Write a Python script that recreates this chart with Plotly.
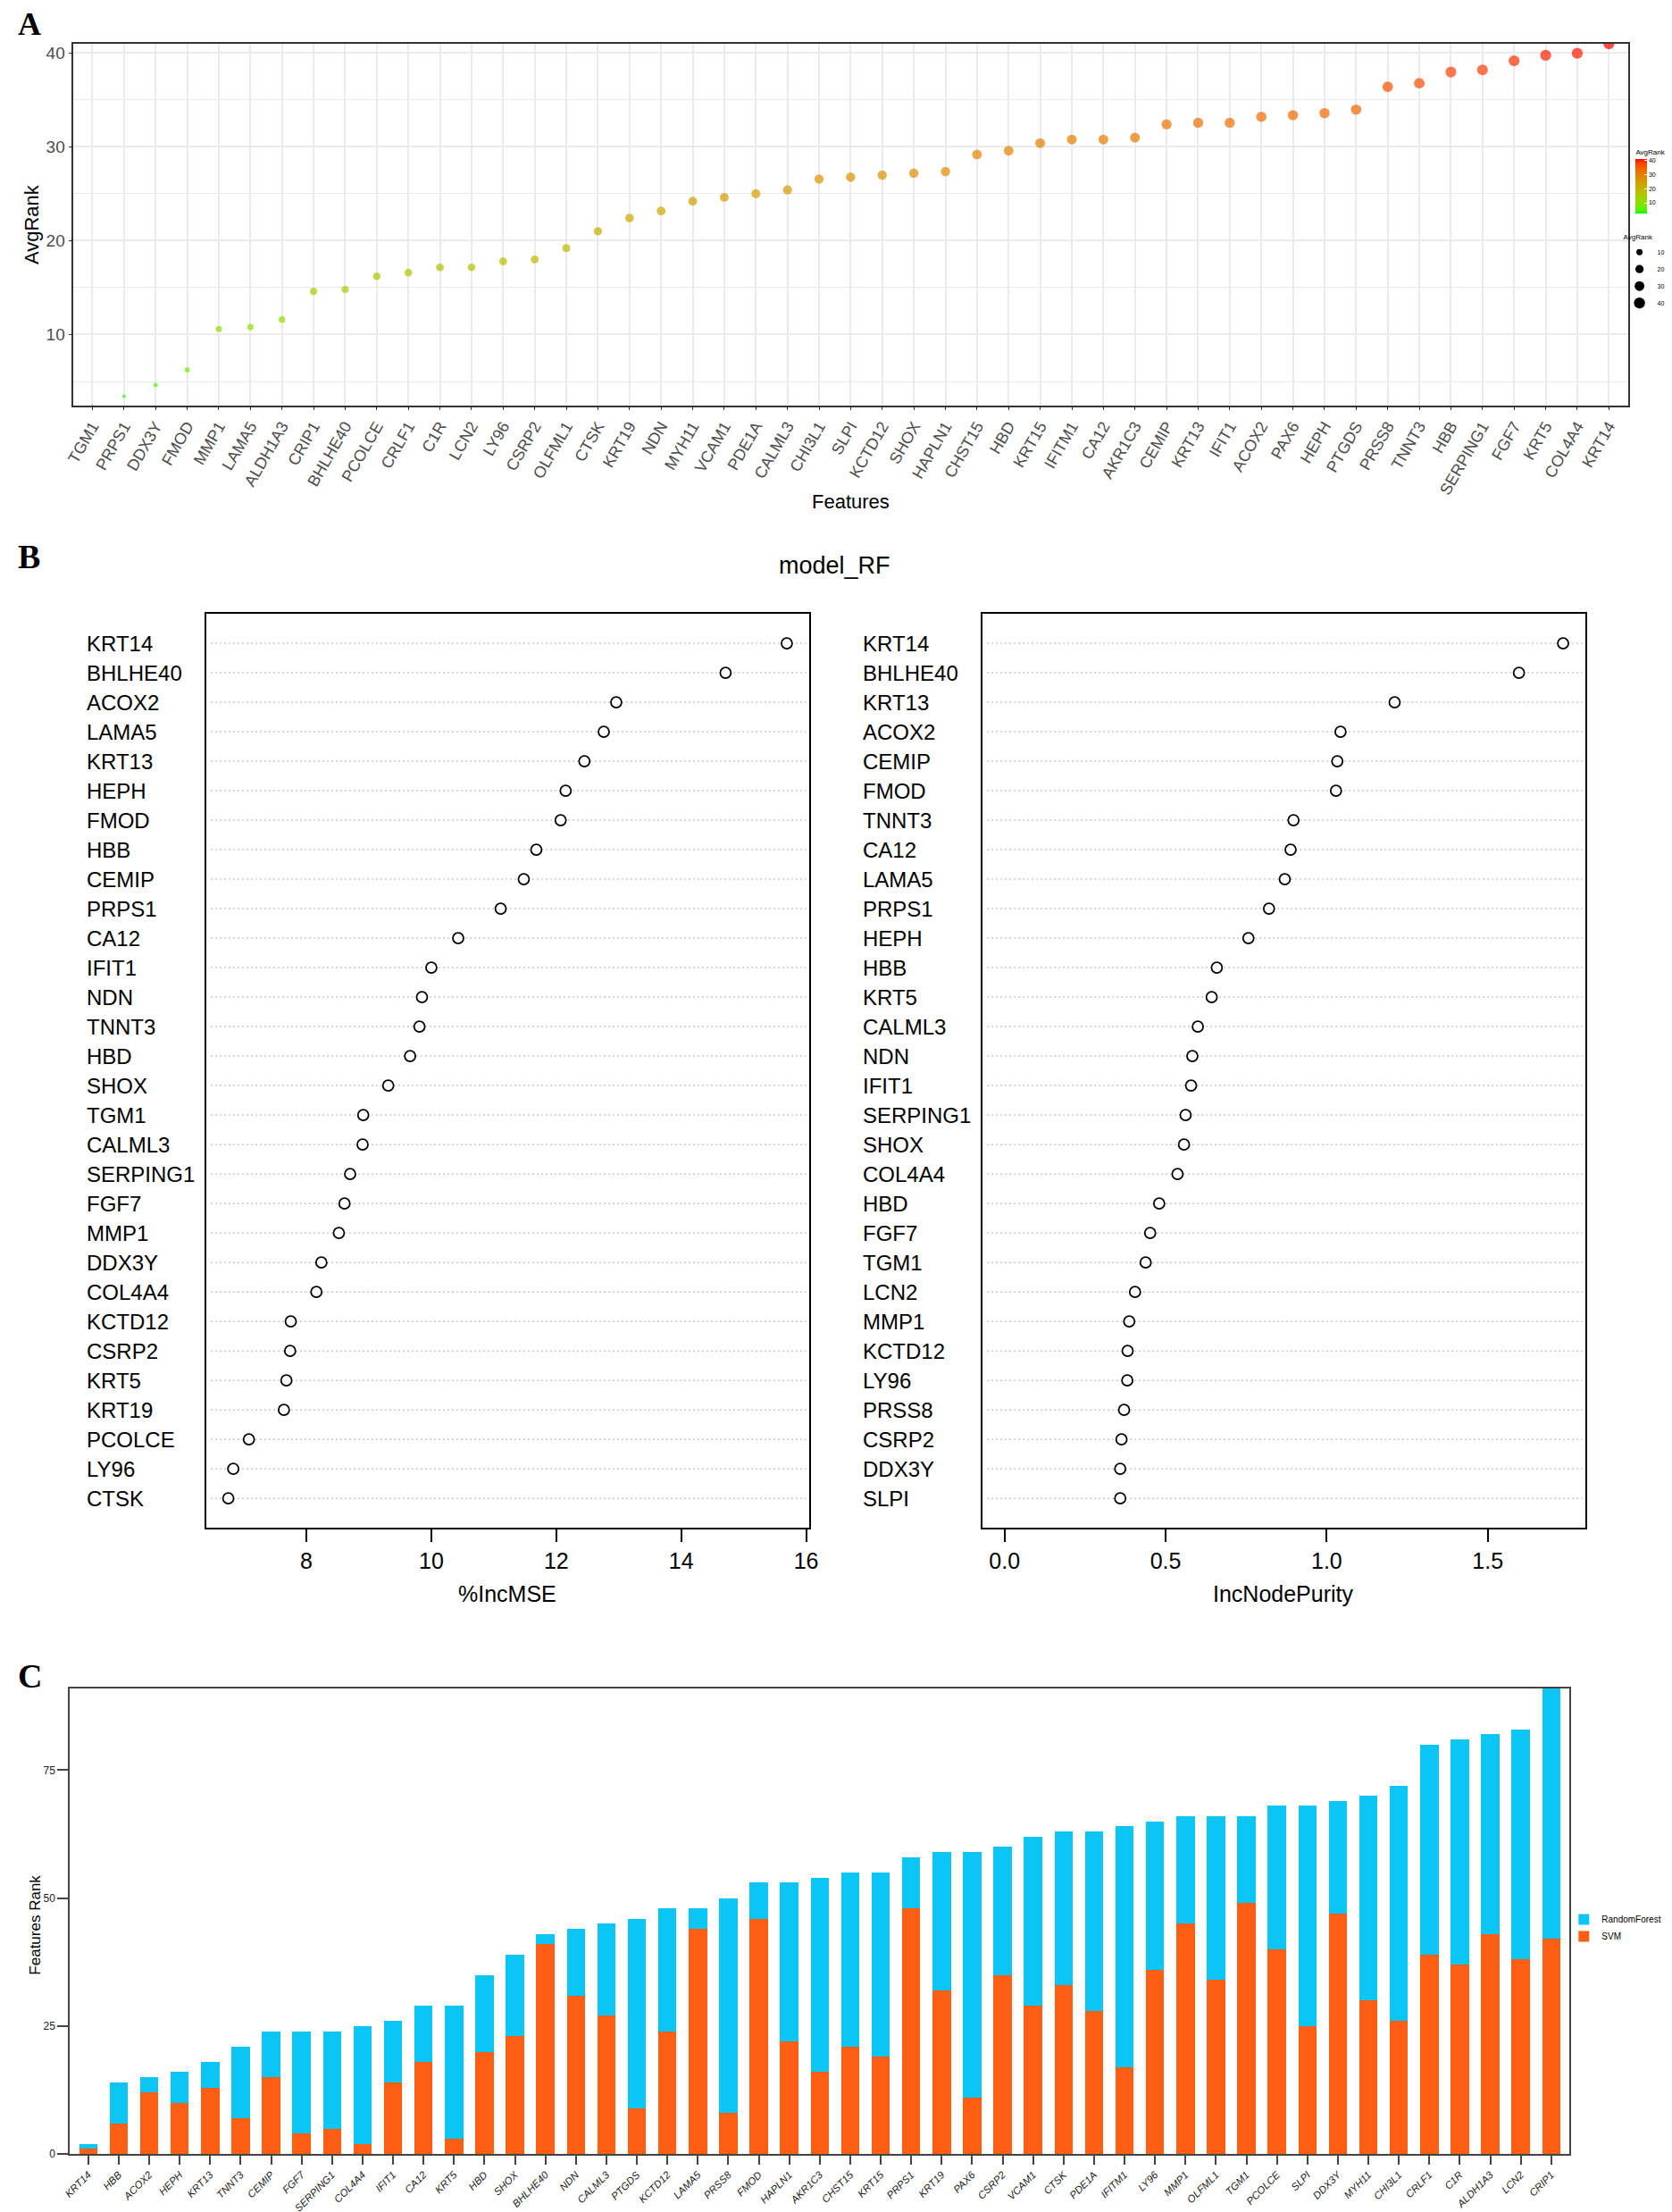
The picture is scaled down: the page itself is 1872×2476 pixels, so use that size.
import numpy as np
import plotly.graph_objects as go

W, H = 1872, 2476

# ---------------- Panel A data ----------------
a_features = ["TGM1", "PRPS1", "DDX3Y", "FMOD", "MMP1", "LAMA5", "ALDH1A3", "CRIP1", "BHLHE40",
              "PCOLCE", "CRLF1", "C1R", "LCN2", "LY96", "CSRP2", "OLFML1", "CTSK", "KRT19", "NDN",
              "MYH11", "VCAM1", "PDE1A", "CALML3", "CHI3L1", "SLPI", "KCTD12", "SHOX", "HAPLN1",
              "CHST15", "HBD", "KRT15", "IFITM1", "CA12", "AKR1C3", "CEMIP", "KRT13", "IFIT1",
              "ACOX2", "PAX6", "HEPH", "PTGDS", "PRSS8", "TNNT3", "HBB", "SERPING1", "FGF7",
              "KRT5", "COL4A4", "KRT14"]
a_avgrank = [2.46, 3.44, 4.63, 6.25, 10.6, 10.8, 11.6, 14.6, 14.8,
             16.2, 16.6, 17.16, 17.16, 17.8, 18.0, 19.2, 21.0, 22.4, 23.16,
             24.2, 24.6, 25.0, 25.4, 26.56, 26.77, 26.98, 27.19, 27.37,
             29.19, 29.58, 30.39, 30.77, 30.77, 30.98, 32.39, 32.56, 32.56,
             33.19, 33.37, 33.58, 33.96, 36.39, 36.77, 37.96, 38.18, 39.16,
             39.75, 39.96, 40.98]
a_yticks = [10, 20, 30, 40]
a_size_legend = [10, 20, 30, 40]

# ---------------- Panel B data ----------------
b_mse_features = ["KRT14", "BHLHE40", "ACOX2", "LAMA5", "KRT13", "HEPH", "FMOD", "HBB", "CEMIP",
                  "PRPS1", "CA12", "IFIT1", "NDN", "TNNT3", "HBD", "SHOX", "TGM1", "CALML3",
                  "SERPING1", "FGF7", "MMP1", "DDX3Y", "COL4A4", "KCTD12", "CSRP2", "KRT5",
                  "KRT19", "PCOLCE", "LY96", "CTSK"]
b_mse_values = [15.69, 14.71, 12.96, 12.76, 12.45, 12.15, 12.07, 11.68, 11.48,
                11.11, 10.43, 10.00, 9.85, 9.81, 9.66, 9.31, 8.91, 8.90,
                8.70, 8.61, 8.52, 8.24, 8.16, 7.75, 7.74, 7.68,
                7.64, 7.08, 6.83, 6.75]
b_pur_features = ["KRT14", "BHLHE40", "KRT13", "ACOX2", "CEMIP", "FMOD", "TNNT3", "CA12", "LAMA5",
                  "PRPS1", "HEPH", "HBB", "KRT5", "CALML3", "NDN", "IFIT1", "SERPING1", "SHOX",
                  "COL4A4", "HBD", "FGF7", "TGM1", "LCN2", "MMP1", "KCTD12", "LY96", "PRSS8",
                  "CSRP2", "DDX3Y", "SLPI"]
b_pur_values = [1.734, 1.597, 1.211, 1.043, 1.033, 1.029, 0.897, 0.888, 0.870,
                0.821, 0.757, 0.659, 0.643, 0.600, 0.583, 0.579, 0.562, 0.557,
                0.537, 0.480, 0.452, 0.438, 0.405, 0.387, 0.382, 0.381, 0.371,
                0.363, 0.359, 0.359]
b_mse_ticks = [8, 10, 12, 14, 16]
b_pur_ticks = [0.0, 0.5, 1.0, 1.5]

# ---------------- Panel C data ----------------
c_features = ["KRT14", "HBB", "ACOX2", "HEPH", "KRT13", "TNNT3", "CEMIP", "FGF7", "SERPING1",
              "COL4A4", "IFIT1", "CA12", "KRT5", "HBD", "SHOX", "BHLHE40", "NDN", "CALML3",
              "PTGDS", "KCTD12", "LAMA5", "PRSS8", "FMOD", "HAPLN1", "AKR1C3", "CHST15",
              "KRT15", "PRPS1", "KRT19", "PAX6", "CSRP2", "VCAM1", "CTSK", "PDE1A", "IFITM1",
              "LY96", "MMP1", "OLFML1", "TGM1", "PCOLCE", "SLPI", "DDX3Y", "MYH11", "CHI3L1",
              "CRLF1", "C1R", "ALDH1A3", "LCN2", "CRIP1"]
c_svm = [1, 6, 12, 10, 13, 7, 15, 4, 5,
         2, 14, 18, 3, 20, 23, 41, 31, 27,
         9, 24, 44, 8, 46, 22, 16, 21,
         19, 48, 32, 11, 35, 29, 33, 28, 17,
         36, 45, 34, 49, 40, 25, 47, 30, 26,
         39, 37, 43, 38, 42]
c_rf = [1, 8, 3, 6, 5, 14, 9, 20, 19,
        23, 12, 11, 26, 15, 16, 2, 13, 18,
        37, 24, 4, 42, 7, 31, 38, 34,
        36, 10, 27, 48, 25, 33, 30, 35, 47,
        29, 21, 32, 17, 28, 43, 22, 40, 46,
        41, 44, 39, 45, 49]
c_yticks = [0, 25, 50, 75]

# ---------------- helpers ----------------
SANS = "Liberation Sans, Arial, sans-serif"
SERIF = "Liberation Serif, Times New Roman, serif"


def px_x(p):
    return p / W


def px_y(p):
    return 1 - p / H


def _srgb_to_lab(hexc):
    r, g, b = [int(hexc[i:i + 2], 16) / 255 for i in (1, 3, 5)]

    def lin(c):
        return c / 12.92 if c <= 0.04045 else ((c + 0.055) / 1.055) ** 2.4
    r, g, b = lin(r), lin(g), lin(b)
    X = 0.4124564 * r + 0.3575761 * g + 0.1804375 * b
    Y = 0.2126729 * r + 0.7151522 * g + 0.0721750 * b
    Z = 0.0193339 * r + 0.1191920 * g + 0.9503041 * b

    def f(t):
        return t ** (1 / 3) if t > 0.008856 else 7.787 * t + 16 / 116
    fx, fy, fz = f(X / 0.95047), f(Y / 1.0), f(Z / 1.08883)
    return (116 * fy - 16, 500 * (fx - fy), 200 * (fy - fz))


def _lab_to_hex(L, a, b):
    fy = (L + 16) / 116
    fx = fy + a / 500
    fz = fy - b / 200

    def finv(t):
        return t ** 3 if t ** 3 > 0.008856 else (t - 16 / 116) / 7.787
    X, Y, Z = 0.95047 * finv(fx), finv(fy), 1.08883 * finv(fz)
    r = 3.2404542 * X - 1.5371385 * Y - 0.4985314 * Z
    g = -0.9692660 * X + 1.8760108 * Y + 0.0415560 * Z
    bb = 0.0556434 * X - 0.2040259 * Y + 1.0572252 * Z

    def gam(c):
        c = max(0.0, min(1.0, c))
        return 12.92 * c if c <= 0.0031308 else 1.055 * c ** (1 / 2.4) - 0.055
    return "#%02x%02x%02x" % tuple(int(round(gam(c) * 255)) for c in (r, g, bb))


lab_lo = _srgb_to_lab("#00FF00")
lab_hi = _srgb_to_lab("#FF0000")
colorscale = []
for t in np.linspace(0, 1, 21):
    L = lab_lo[0] + (lab_hi[0] - lab_lo[0]) * t
    A_ = lab_lo[1] + (lab_hi[1] - lab_lo[1]) * t
    B_ = lab_lo[2] + (lab_hi[2] - lab_lo[2]) * t
    colorscale.append([float(t), _lab_to_hex(L, A_, B_)])

amin, amax = min(a_avgrank), max(a_avgrank)


def size_px(v):
    x01 = (v - amin) / (amax - amin)
    x01 = max(0.0, x01)
    return 2.0 * (1 + 5 * np.sqrt(x01)) + 0.5


fig = go.Figure()

# ---------------- Panel A ----------------
fig.add_trace(go.Scatter(
    x=a_features, y=a_avgrank, mode="markers", xaxis="x", yaxis="y",
    showlegend=False,
    marker=dict(size=[size_px(v) for v in a_avgrank], color=a_avgrank,
                colorscale=colorscale, cmin=amin, cmax=amax, line=dict(width=0),
                colorbar=dict(
                    title=dict(text="AvgRank", side="top", font=dict(size=8, family=SANS, color="black")),
                    x=px_x(1834), xanchor="left", y=px_y(194), yanchor="middle",
                    len=75, lenmode="pixels", thickness=13, thicknessmode="pixels",
                    outlinewidth=0, ticks="inside", tickcolor="white", ticklen=3,
                    tickvals=a_yticks, tickfont=dict(size=7, family=SANS, color="black"),
                    xpad=0, ypad=0)),
))
for v in a_size_legend:
    fig.add_trace(go.Scatter(
        x=[None], y=[None], mode="markers", xaxis="x", yaxis="y",
        name=str(v), legend="legend2", showlegend=True,
        marker=dict(size=size_px(v), color="black"),
    ))

# ---------------- Panel B ----------------
n_b = len(b_mse_features)
b_rows = [n_b - i for i in range(n_b)]
for feats, vals, xa, ya, xl in [(b_mse_features, b_mse_values, "x2", "y2", 78),
                                (b_pur_features, b_pur_values, "x3", "y3", 957)]:
    for r in b_rows:
        fig.add_shape(type="line", xref=xa + " domain", yref=ya, x0=0.008, x1=0.995,
                      y0=r, y1=r, line=dict(color="#C8C8C8", width=1.5, dash="2px,3px"),
                      layer="below")
    fig.add_trace(go.Scatter(
        x=vals, y=b_rows, mode="markers", xaxis=xa, yaxis=ya, showlegend=False,
        marker=dict(size=12, color="white", line=dict(color="black", width=1.8)),
    ))
    for f, r in zip(feats, b_rows):
        fig.add_annotation(x=px_x(xl), y=r, xref="paper", yref=ya, text=f, showarrow=False,
                           xanchor="left", yanchor="middle",
                           font=dict(size=24, family=SANS, color="black"))

# ---------------- Panel C ----------------
fig.add_trace(go.Bar(x=c_features, y=c_svm, name="SVM", xaxis="x4", yaxis="y4",
                     marker=dict(color="#FF5F15", line=dict(width=0))))
fig.add_trace(go.Bar(x=c_features, y=c_rf, name="RandomForest", xaxis="x4", yaxis="y4",
                     marker=dict(color="#0BC6F4", line=dict(width=0))))
c_total = [s + r for s, r in zip(c_svm, c_rf)]

# ---------------- axes ----------------
mse_span = max(b_mse_values) - min(b_mse_values)
pur_lo = 0.0
pur_span = max(b_pur_values) - pur_lo

grid_col = "#EBEBEB"
layout = dict(
    width=W, height=H, margin=dict(l=0, r=0, t=0, b=0),
    paper_bgcolor="white", plot_bgcolor="white",
    font=dict(family=SANS, color="black"),
    barmode="stack", bargap=0.4,
    xaxis=dict(domain=[px_x(65), px_x(1825)], anchor="y", type="category",
               range=[-0.6, len(a_features) - 0.4],
               showgrid=True, gridcolor=grid_col, gridwidth=1.5,
               showline=True, mirror=True, linecolor="#333333", linewidth=1.5,
               ticks="outside", ticklen=4, tickcolor="#333333",
               tickangle=-60, tickfont=dict(size=18, color="#4D4D4D", family=SANS),
               zeroline=False),
    yaxis=dict(domain=[px_y(447), px_y(41)], anchor="x",
               range=[amin, amax], tickvals=a_yticks,
               showgrid=True, gridcolor=grid_col, gridwidth=1.5,
               minor=dict(dtick=5, tick0=0, showgrid=True, gridcolor=grid_col, gridwidth=1.2),
               showline=True, mirror=True, linecolor="#333333", linewidth=1.5,
               ticks="outside", ticklen=4, tickcolor="#333333",
               tickfont=dict(size=19, color="#4D4D4D", family=SANS), zeroline=False),
    xaxis2=dict(domain=[px_x(215), px_x(898)], anchor="y2",
                range=[min(b_mse_values) - 0.04 * mse_span, max(b_mse_values) + 0.04 * mse_span],
                tickvals=b_mse_ticks, showgrid=False, zeroline=False,
                showline=True, mirror=True, linecolor="black", linewidth=2,
                ticks="outside", ticklen=14, tickwidth=2, tickcolor="black",
                tickfont=dict(size=25, family=SANS, color="black")),
    yaxis2=dict(domain=[px_y(1707), px_y(681)], anchor="x2", range=[0, n_b + 1],
                showgrid=False, zeroline=False, showticklabels=False, ticks="",
                showline=True, mirror=True, linecolor="black", linewidth=2),
    xaxis3=dict(domain=[px_x(1094), px_x(1777)], anchor="y3",
                range=[pur_lo - 0.04 * pur_span, max(b_pur_values) + 0.04 * pur_span],
                tickvals=b_pur_ticks, tickformat=".1f", showgrid=False, zeroline=False,
                showline=True, mirror=True, linecolor="black", linewidth=2,
                ticks="outside", ticklen=14, tickwidth=2, tickcolor="black",
                tickfont=dict(size=25, family=SANS, color="black")),
    yaxis3=dict(domain=[px_y(1707), px_y(681)], anchor="x3", range=[0, n_b + 1],
                showgrid=False, zeroline=False, showticklabels=False, ticks="",
                showline=True, mirror=True, linecolor="black", linewidth=2),
    xaxis4=dict(domain=[px_x(61), px_x(1759)], anchor="y4", type="category",
                range=[-0.6, len(c_features) - 0.4],
                tickvals=c_features, ticktext=["<i>%s</i>" % f for f in c_features],
                showgrid=False, zeroline=False,
                showline=True, mirror=True, linecolor="#444444", linewidth=2,
                ticks="outside", ticklen=10, tickwidth=1.5, tickcolor="#444444",
                tickangle=-45, tickfont=dict(size=11.5, family=SANS, color="#222222")),
    yaxis4=dict(domain=[px_y(2410), px_y(1887)], anchor="x4",
                range=[0, max(c_total)], tickvals=c_yticks,
                showgrid=False, zeroline=False,
                showline=True, mirror=True, linecolor="#444444", linewidth=2,
                ticks="outside", ticklen=12, tickwidth=1.5, tickcolor="#444444",
                tickfont=dict(size=12, family=SANS, color="#222222")),
    legend=dict(x=px_x(1755), y=px_y(2132), xanchor="left", yanchor="top",
                traceorder="reversed", font=dict(size=10, family=SANS, color="black"),
                bgcolor="rgba(0,0,0,0)", tracegroupgap=0, itemwidth=30),
    legend2=dict(x=px_x(1818), y=px_y(250), xanchor="left", yanchor="top",
                 title=dict(text="AvgRank", font=dict(size=8, family=SANS, color="black")),
                 font=dict(size=7, family=SANS, color="black"), itemsizing="trace",
                 bgcolor="rgba(0,0,0,0)", tracegroupgap=0, itemwidth=30),
)
fig.update_layout(**layout)

annots = [
    dict(text="<b>A</b>", x=px_x(0), y=px_y(19), xanchor="left", yanchor="middle",
         font=dict(size=36, family=SERIF, color="black")),
    dict(text="AvgRank", x=px_x(18), y=px_y(244), xanchor="center", yanchor="middle",
         textangle=-90, font=dict(size=22, family=SANS, color="black")),
    dict(text="Features", x=px_x(945), y=px_y(555), xanchor="center", yanchor="middle",
         font=dict(size=22, family=SANS, color="black")),
    dict(text="<b>B</b>", x=px_x(0), y=px_y(617), xanchor="left", yanchor="middle",
         font=dict(size=38, family=SERIF, color="black")),
    dict(text="model_RF", x=px_x(927), y=px_y(627), xanchor="center", yanchor="middle",
         font=dict(size=27, family=SANS, color="black")),
    dict(text="%IncMSE", x=px_x(556), y=px_y(1781), xanchor="center", yanchor="middle",
         font=dict(size=25, family=SANS, color="black")),
    dict(text="IncNodePurity", x=px_x(1435), y=px_y(1781), xanchor="center", yanchor="middle",
         font=dict(size=25, family=SANS, color="black")),
    dict(text="<b>C</b>", x=px_x(0), y=px_y(1873), xanchor="left", yanchor="middle",
         font=dict(size=38, family=SERIF, color="black")),
    dict(text="Features Rank", x=px_x(22), y=px_y(2153), xanchor="center", yanchor="middle",
         textangle=-90, font=dict(size=17, family=SANS, color="black")),
]
for a in annots:
    fig.add_annotation(xref="paper", yref="paper", showarrow=False, **a)

fig.write_html("out.html")
